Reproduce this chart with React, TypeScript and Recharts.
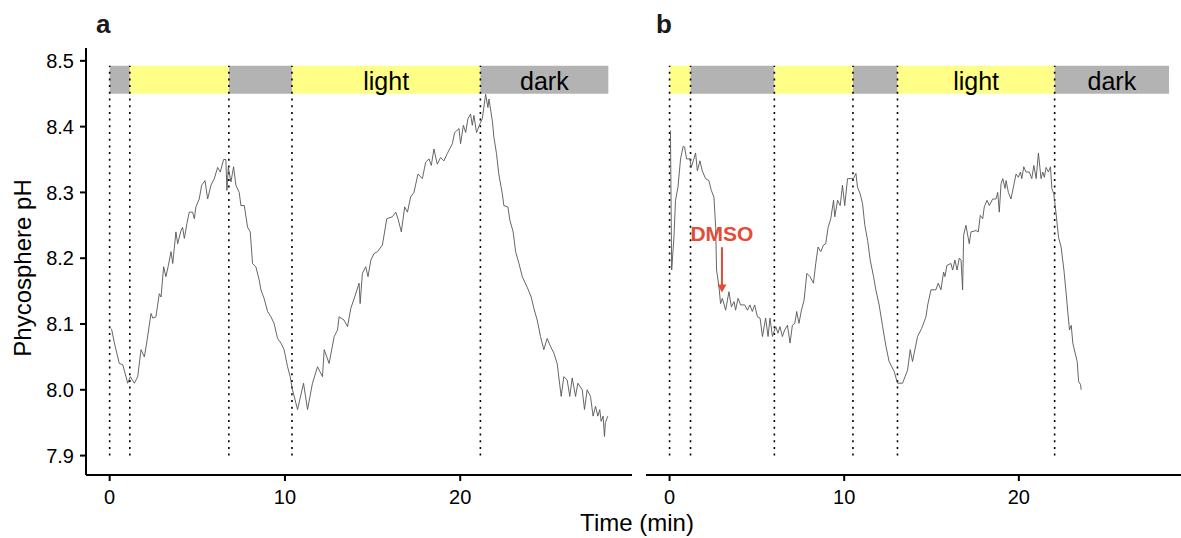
import React from 'react';
import {
  LineChart,
  Line,
  XAxis,
  YAxis,
  ReferenceArea,
  ReferenceLine,
} from 'recharts';

// panel a: time (min) and phycosphere pH
const timeA = [
  0.08, 0.12, 0.27, 0.55, 0.75, 1.03, 1.18, 1.41, 1.6, 1.79, 1.98, 2.11, 2.36, 2.46, 2.64, 2.83, 2.93,
  3.08, 3.21, 3.35, 3.5, 3.6, 3.78, 3.88, 4.07, 4.16, 4.26, 4.41, 4.54, 4.73, 4.83, 4.92, 5.11, 5.25,
  5.44, 5.59, 5.78, 5.97, 6.16, 6.31, 6.5, 6.63, 6.69, 6.77, 6.92, 7.07, 7.2, 7.39, 7.49, 7.68, 7.87,
  8.02, 8.15, 8.34, 8.53, 8.63, 8.81, 9.01, 9.2, 9.38, 9.58, 9.77, 9.95, 10.15, 10.3, 10.43, 10.72,
  11.06, 11.29, 11.57, 11.86, 12.14, 12.24, 12.52, 12.81, 13.0, 13.09, 13.37, 13.57, 13.76, 14.04,
  14.23, 14.29, 14.42, 14.61, 14.74, 14.9, 15.08, 15.28, 15.56, 15.81, 16.13, 16.32, 16.45, 16.64,
  16.83, 16.99, 17.17, 17.36, 17.59, 17.84, 18.03, 18.22, 18.35, 18.5, 18.69, 18.88, 19.07, 19.26,
  19.55, 19.68, 19.93, 20.02, 20.18, 20.31, 20.44, 20.59, 20.69, 20.78, 20.93, 21.12, 21.26, 21.45,
  21.58, 21.64, 21.83, 21.92, 22.07, 22.2, 22.4, 22.49, 22.72, 22.83, 23.02, 23.16, 23.35, 23.54,
  23.82, 24.05, 24.2, 24.39, 24.58, 24.77, 24.96, 25.15, 25.34, 25.53, 25.76, 25.91, 26.1, 26.25,
  26.39, 26.58, 26.71, 26.96, 27.09, 27.24, 27.43, 27.58, 27.72, 27.85, 27.96, 28.04, 28.15, 28.23,
  28.28, 28.42,
];
const phA = [
  8.093, 8.091, 8.071, 8.04, 8.038, 8.01, 8.02, 8.01, 8.02, 8.061, 8.05, 8.071, 8.116, 8.109, 8.111,
  8.146, 8.141, 8.187, 8.172, 8.189, 8.21, 8.192, 8.24, 8.222, 8.242, 8.247, 8.23, 8.253, 8.27, 8.27,
  8.26, 8.278, 8.29, 8.311, 8.318, 8.29, 8.311, 8.321, 8.338, 8.331, 8.35, 8.35, 8.303, 8.338, 8.316,
  8.339, 8.311, 8.3, 8.28, 8.28, 8.247, 8.24, 8.192, 8.187, 8.167, 8.152, 8.139, 8.119, 8.111, 8.101,
  8.078, 8.071, 8.061, 8.035, 8.02, 8.0, 7.97, 8.01, 7.97, 8.01, 8.035, 8.02, 8.061, 8.04, 8.081,
  8.091, 8.111, 8.106, 8.096, 8.124, 8.146, 8.162, 8.131, 8.177, 8.187, 8.172, 8.197, 8.207, 8.21,
  8.22, 8.26, 8.263, 8.27, 8.26, 8.24, 8.278, 8.27, 8.293, 8.3, 8.328, 8.321, 8.346, 8.351, 8.341,
  8.366, 8.343, 8.353, 8.348, 8.359, 8.374, 8.391, 8.397, 8.374, 8.402, 8.391, 8.412, 8.419, 8.402,
  8.417, 8.391, 8.404, 8.412, 8.449, 8.429, 8.442, 8.409, 8.384, 8.359, 8.328, 8.298, 8.28, 8.278,
  8.258, 8.24, 8.21, 8.192, 8.172, 8.156, 8.141, 8.124, 8.106, 8.081, 8.061, 8.078, 8.066, 8.056,
  8.04, 7.99, 8.02, 8.015, 7.99, 8.018, 7.99, 8.01, 8.0, 7.97, 8.0, 7.99, 7.96, 7.975, 7.96, 7.97,
  7.952, 7.96, 7.929, 7.95, 7.96,
];

// panel b
const timeB = [
  0.05, 0.12, 0.25, 0.34, 0.48, 0.63, 0.78, 0.86, 0.97, 1.17, 1.24, 1.36, 1.49, 1.59, 1.74, 1.87, 2.06,
  2.25, 2.39, 2.54, 2.64, 2.69, 2.83, 2.92, 3.02, 3.21, 3.4, 3.54, 3.69, 3.78, 3.92, 4.07, 4.3, 4.46,
  4.6, 4.74, 4.87, 5.03, 5.18, 5.32, 5.5, 5.64, 5.75, 5.89, 6.08, 6.21, 6.32, 6.46, 6.59, 6.75, 6.9,
  7.03, 7.17, 7.28, 7.41, 7.55, 7.7, 7.86, 8.04, 8.24, 8.37, 8.5, 8.66, 8.81, 8.94, 9.08, 9.23, 9.39,
  9.46, 9.62, 9.77, 9.9, 10.03, 10.19, 10.38, 10.53, 10.67, 10.76, 10.91, 11.05, 11.18, 11.34, 11.49,
  11.68, 11.81, 12.0, 12.2, 12.39, 12.57, 12.86, 13.05, 13.34, 13.63, 13.78, 13.91, 14.2, 14.43,
  14.68, 14.78, 14.97, 15.25, 15.38, 15.54, 15.69, 15.77, 15.88, 16.11, 16.21, 16.34, 16.46, 16.59,
  16.69, 16.78, 16.84, 16.97, 17.16, 17.26, 17.55, 17.68, 17.79, 17.93, 18.02, 18.18, 18.31, 18.5,
  18.69, 18.79, 18.88, 18.98, 19.08, 19.21, 19.27, 19.4, 19.55, 19.71, 19.84, 19.97, 20.09, 20.17,
  20.28, 20.41, 20.6, 20.74, 20.86, 20.99, 21.12, 21.27, 21.37, 21.46, 21.56, 21.69, 21.81, 21.89,
  22.0, 22.13, 22.27, 22.42, 22.58, 22.71, 22.81, 22.9, 23.0, 23.09, 23.22, 23.34, 23.42, 23.53, 23.57,
];
const phB = [
  8.394, 8.182, 8.232, 8.288, 8.308, 8.351, 8.37, 8.369, 8.351, 8.351, 8.338, 8.348, 8.36, 8.333,
  8.348, 8.333, 8.321, 8.318, 8.303, 8.293, 8.247, 8.182, 8.156, 8.131, 8.139, 8.121, 8.149, 8.126,
  8.134, 8.121, 8.139, 8.129, 8.129, 8.121, 8.129, 8.119, 8.129, 8.111, 8.109, 8.081, 8.109, 8.081,
  8.109, 8.081, 8.096, 8.086, 8.096, 8.081, 8.091, 8.098, 8.071, 8.098, 8.101, 8.119, 8.101, 8.121,
  8.136, 8.177, 8.172, 8.162, 8.192, 8.217, 8.21, 8.22, 8.222, 8.247, 8.26, 8.288, 8.263, 8.288,
  8.28, 8.311, 8.28, 8.321, 8.321, 8.321, 8.329, 8.308, 8.298, 8.283, 8.25, 8.227, 8.197, 8.172,
  8.152, 8.129, 8.096, 8.066, 8.043, 8.028, 8.01, 8.01, 8.03, 8.061, 8.043, 8.081, 8.093, 8.111,
  8.129, 8.152, 8.152, 8.162, 8.152, 8.179, 8.172, 8.189, 8.192, 8.182, 8.197, 8.182, 8.2, 8.197,
  8.152, 8.235, 8.25, 8.222, 8.24, 8.242, 8.24, 8.265, 8.26, 8.278, 8.288, 8.28, 8.29, 8.29, 8.3,
  8.27, 8.313, 8.321, 8.306, 8.318, 8.3, 8.29, 8.311, 8.328, 8.323, 8.331, 8.321, 8.339, 8.331,
  8.331, 8.321, 8.341, 8.321, 8.36, 8.321, 8.331, 8.323, 8.338, 8.331, 8.339, 8.306, 8.298, 8.268,
  8.232, 8.217, 8.182, 8.146, 8.116, 8.091, 8.098, 8.071, 8.056, 8.043, 8.013, 8.008, 8.0,
];

// light / dark switch times (min)
const switchesA = [0, 1.15, 6.8, 10.4, 21.15, 28.45];
const phasesA = ['dark', 'light', 'dark', 'light', 'dark'];
const switchesB = [0, 1.2, 6.0, 10.5, 13.05, 22.05, 28.6];
const phasesB = ['light', 'dark', 'light', 'dark', 'light', 'dark'];

const xTicks = [0, 10, 20];
const yTicks = [7.9, 8.0, 8.1, 8.2, 8.3, 8.4, 8.5];
const xDomain = [-1.35, 29.8];
const yDomain = [7.8705, 8.5195];
const bandLow = 8.45;
const bandHigh = 8.4925;
const dmso = { t: 3.0, top: 8.2167, tip: 8.148 };

const FONT = '"Liberation Sans", Arial, Helvetica, sans-serif';
const BAND_COLORS: Record<string, string> = { light: '#FFFF88', dark: '#B3B3B3' };

const toRows = (t: number[], ph: number[]) => t.map((v, i) => ({ t: v, ph: ph[i] }));

const tickStyle = { fontSize: 20, fill: '#000', fontFamily: FONT };

const Arrow = (props: any) => {
  const { x1, y1, x2, y2 } = props;
  return (
    <g>
      <line x1={x1} y1={y1} x2={x2} y2={y2 - 6} stroke="#E64B35" strokeWidth={2} />
      <polygon points={`${x2 - 4.5},${y2 - 8} ${x2 + 4.5},${y2 - 8} ${x2},${y2}`} fill="#E64B35" />
      <text
        x={x1}
        y={y1 - 6}
        textAnchor="middle"
        fontSize={21}
        fontWeight="bold"
        fill="#E64B35"
        fontFamily={FONT}
      >
        DMSO
      </text>
    </g>
  );
};

const Panel = ({
  rows,
  switches,
  phases,
  width,
  marginLeft,
  showY,
  children,
}: any) => {
  const n = phases.length;
  return (
    <LineChart
      width={width}
      height={538}
      data={rows}
      margin={{ top: 48, right: 0, left: marginLeft, bottom: 0 }}
    >
      <XAxis
        type="number"
        dataKey="t"
        domain={xDomain}
        allowDataOverflow
        ticks={xTicks}
        height={63}
        tickSize={6}
        tickMargin={9}
        tick={tickStyle}
        axisLine={{ stroke: '#000', strokeWidth: 2 }}
        tickLine={{ stroke: '#000', strokeWidth: 2 }}
      />
      <YAxis
        type="number"
        domain={yDomain}
        allowDataOverflow
        ticks={yTicks}
        hide={!showY}
        width={showY ? 86 : 0}
        tickSize={6}
        tickMargin={6}
        tick={tickStyle}
        tickFormatter={(v: number) => v.toFixed(1)}
        axisLine={{ stroke: '#000', strokeWidth: 2 }}
        tickLine={{ stroke: '#000', strokeWidth: 2 }}
      />
      {phases.map((p: string, i: number) => (
        <ReferenceArea
          key={'band' + i}
          x1={switches[i]}
          x2={switches[i + 1]}
          y1={bandLow}
          y2={bandHigh}
          fill={BAND_COLORS[p]}
          fillOpacity={1}
          stroke="none"
          label={
            i >= n - 2
              ? { value: p, position: 'center', fontSize: 25, fill: '#000', fontFamily: FONT, dy: 1 }
              : undefined
          }
        />
      ))}
      {switches.slice(0, -1).map((s: number, i: number) => (
        <ReferenceLine
          key={'sw' + i}
          segment={[
            { x: s, y: 7.9 },
            { x: s, y: bandHigh },
          ]}
          stroke="#000"
          strokeWidth={1.6}
          strokeDasharray="2 4.7"
        />
      ))}
      <Line
        type="linear"
        dataKey="ph"
        stroke="#555555"
        strokeWidth={0.9}
        dot={false}
        isAnimationActive={false}
      />
      {children}
    </LineChart>
  );
};

export default function App() {
  const rowsA = toRows(timeA, phA);
  const rowsB = toRows(timeB, phB);
  return (
    <div
      style={{
        position: 'fixed',
        left: 0,
        top: 0,
        width: 1181,
        height: 538,
        overflow: 'hidden',
        background: '#fff',
      }}
    >
      <div style={{ position: 'absolute', left: 0, top: 0 }}>
        <Panel rows={rowsA} switches={switchesA} phases={phasesA} width={632} marginLeft={0} showY />
      </div>
      <div style={{ position: 'absolute', left: 600, top: 0 }}>
        <Panel rows={rowsB} switches={switchesB} phases={phasesB} width={590} marginLeft={46} showY={false}>
          <ReferenceLine
            segment={[
              { x: dmso.t, y: dmso.top },
              { x: dmso.t, y: dmso.tip },
            ]}
            shape={Arrow}
          />
        </Panel>
      </div>
      <svg
        width={1181}
        height={538}
        style={{ position: 'absolute', left: 0, top: 0, pointerEvents: 'none' }}
        fontFamily={FONT}
      >
        <text x={96} y={33} fontSize={26} fontWeight="bold" fill="#1a1a1a">a</text>
        <text x={656} y={33} fontSize={26} fontWeight="bold" fill="#1a1a1a">b</text>
        <text
          transform="translate(31,268) rotate(-90)"
          textAnchor="middle"
          fontSize={24}
          fill="#000"
        >
          Phycosphere pH
        </text>
        <text x={637} y={531} textAnchor="middle" fontSize={24} fill="#000">
          Time (min)
        </text>
      </svg>
    </div>
  );
}
